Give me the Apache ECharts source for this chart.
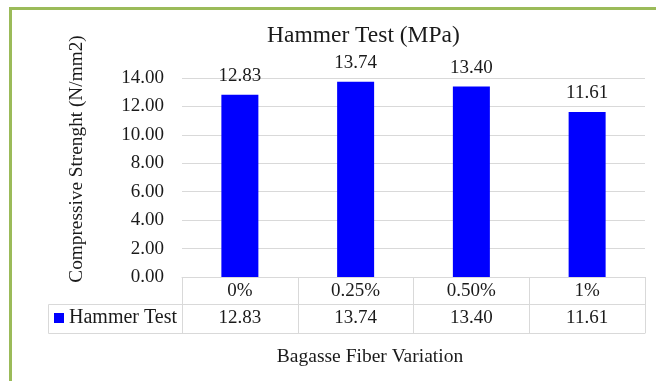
<!DOCTYPE html>
<html><head><meta charset="utf-8">
<script src="https://cdn.jsdelivr.net/npm/echarts@6/dist/echarts.min.js"></script>
<style>html,body{margin:0;padding:0;background:#fff}#c{width:656px;height:381px}</style>
</head><body><div id="c"></div>
<script>
var categories = ['0%', '0.25%', '0.50%', '1%'];
var hammerValues = [12.83, 13.74, 13.40, 11.61];
var seriesName = 'Hammer Test';
var yTicks = [0, 2, 4, 6, 8, 10, 12, 14];
var chartTitle = 'Hammer Test (MPa)';
var xTitle = 'Bagasse Fiber Variation';
var yTitle = 'Compressive Strenght (N/mm2)';

var FONT = '"Liberation Serif", "Times New Roman", serif';
var TXT = '#1a1a1a';
var LINE = '#d9d9d9';
var chart = echarts.init(document.getElementById('c'));
var fmt = function (v) { return Number(v).toFixed(2); };
chart.setOption({
  animation: false,
  textStyle: { fontFamily: FONT },
  title: { text: chartTitle, left: 267, top: 24, padding: 0,
    textStyle: { fontFamily: FONT, fontSize: 23.5, fontWeight: 'normal', color: TXT } },
  legend: { data: [seriesName], left: 54, top: 308, padding: 0, itemWidth: 10, itemHeight: 10,
    icon: 'rect', itemGap: 5, textStyle: { fontFamily: FONT, fontSize: 20, color: TXT } },
  grid: { left: 182, right: 11, top: 78, bottom: 104, containLabel: false },
  xAxis: [
    { type: 'category', data: categories, position: 'bottom',
      axisLine: { show: true, lineStyle: { color: LINE, width: 1 } },
      axisTick: { show: true, length: 56, lineStyle: { color: LINE, width: 1 } },
      axisLabel: { show: true, margin: 5, fontFamily: FONT, fontSize: 19, color: TXT } },
    { type: 'category', data: hammerValues.map(fmt), position: 'bottom', offset: 27, gridIndex: 0,
      axisLine: { show: true, lineStyle: { color: LINE, width: 1 } },
      axisTick: { show: false },
      axisLabel: { show: true, margin: 5, fontFamily: FONT, fontSize: 19, color: TXT } },
    { type: 'category', data: categories, position: 'bottom', offset: 56, gridIndex: 0,
      axisLine: { show: true, lineStyle: { color: LINE, width: 1 } },
      axisTick: { show: false }, axisLabel: { show: false } }
  ],
  yAxis: { type: 'value', min: yTicks[0], max: yTicks[yTicks.length - 1], interval: 2,
    axisLine: { show: false }, axisTick: { show: false },
    splitLine: { lineStyle: { color: LINE, width: 1 } },
    axisLabel: { margin: 18, fontFamily: FONT, fontSize: 19, color: TXT, formatter: fmt } },
  series: [{ name: seriesName, type: 'bar', data: hammerValues, barWidth: 37,
    itemStyle: { color: '#0000ff' },
    label: { show: true, position: 'top', distance: 9, fontFamily: FONT, fontSize: 19, color: TXT,
      formatter: function (p) { return fmt(p.value); } } }],
  graphic: [
    { type: 'rect', silent: true, z: 0, shape: { x: 10.5, y: 8.5, width: 800, height: 600 },
      style: { fill: null, stroke: '#9bbb59', lineWidth: 3 } },
    { type: 'line', silent: true, shape: { x1: 48.5, y1: 304.5, x2: 182, y2: 304.5 }, style: { stroke: LINE, lineWidth: 1 } },
    { type: 'line', silent: true, shape: { x1: 48.5, y1: 333.5, x2: 182, y2: 333.5 }, style: { stroke: LINE, lineWidth: 1 } },
    { type: 'line', silent: true, shape: { x1: 48.5, y1: 304.5, x2: 48.5, y2: 333.5 }, style: { stroke: LINE, lineWidth: 1 } },
    { type: 'text', silent: true, x: 370, y: 357,
      style: { text: xTitle, font: '19.5px ' + FONT, fill: TXT, textAlign: 'center', textVerticalAlign: 'middle' } },
    { type: 'text', silent: true, x: 77, y: 159, rotation: Math.PI / 2,
      style: { text: yTitle, font: '19.3px ' + FONT, fill: TXT, textAlign: 'center', textVerticalAlign: 'middle' } }
  ]
});
</script></body></html>
